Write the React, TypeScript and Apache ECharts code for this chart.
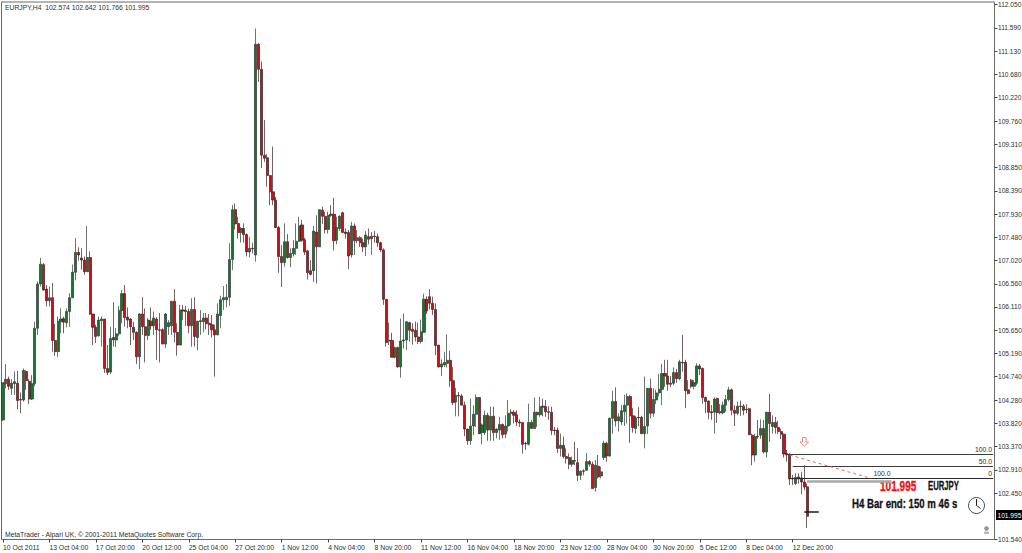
import React, { useEffect, useRef } from "react";
import * as echarts from "echarts";

const opens = [
103.89,104.60,104.69,104.51,104.60,104.61,104.29,104.28,104.84,104.65,
104.30,104.60,105.69,106.56,106.94,106.46,106.23,106.29,105.45,105.23,
105.82,105.88,105.80,106.02,106.29,106.79,107.18,107.07,107.03,106.80,
107.08,105.97,105.71,105.54,105.84,105.87,104.90,104.83,105.51,105.46,
105.58,106.04,106.37,105.91,105.87,105.71,105.61,105.13,105.97,105.72,
105.55,105.83,105.74,105.87,105.66,105.66,105.38,105.72,105.74,106.22,
105.61,105.36,106.05,106.04,106.02,105.74,106.06,105.51,105.82,105.82,
105.89,105.79,105.76,105.66,105.56,105.94,106.25,106.25,106.30,107.04,
108.02,107.75,107.57,107.65,107.53,107.19,107.26,107.13,111.27,110.78,
109.09,109.04,108.69,108.37,108.21,107.67,107.10,106.98,107.39,107.08,
107.15,107.26,107.40,107.72,107.43,107.21,106.82,106.82,107.58,107.29,
108.01,107.89,107.63,107.93,107.93,107.42,107.65,107.96,107.58,107.57,
107.13,107.70,107.41,107.47,107.37,107.29,107.49,107.45,107.50,107.49,
107.37,107.23,106.26,105.45,105.45,105.12,105.31,104.93,105.44,105.46,
105.80,105.67,105.65,105.52,105.43,105.61,106.26,106.31,106.18,106.06,
105.36,104.93,104.97,105.00,105.06,104.66,104.24,104.37,104.36,104.18,
103.71,103.48,103.77,104.00,104.33,103.64,103.64,103.98,103.69,103.96,
103.64,103.69,103.80,103.61,103.77,104.04,104.04,103.99,103.85,103.84,
103.43,103.41,103.84,103.72,104.04,103.99,104.16,104.15,104.05,104.04,
103.69,103.69,103.33,103.39,103.17,103.15,103.02,103.09,103.05,102.80,
102.89,102.90,103.07,103.02,102.56,102.98,102.79,103.15,103.43,103.18,
103.92,104.25,103.87,103.85,104.05,104.18,104.35,103.97,103.72,103.94,
103.94,103.62,103.77,104.51,104.02,104.28,104.42,104.49,104.80,104.75,
104.61,104.61,104.82,104.70,105.02,105.02,104.48,104.67,104.55,104.61,
104.95,104.90,104.33,104.26,104.05,104.04,104.31,104.05,104.03,104.18,
104.29,104.48,104.08,104.02,104.16,104.16,104.10,104.11,103.59,103.20,
103.57,103.59,103.72,103.26,104.04,103.76,103.84,103.74,103.66,103.61,
103.23,103.22,102.74,102.64,102.77,102.75,102.67,102.574];

const closes = [
104.62,104.69,104.55,104.61,104.64,104.27,104.28,104.86,104.66,104.30,
104.60,105.69,106.56,106.95,106.44,106.23,106.29,105.45,105.23,105.83,
105.87,105.81,106.02,106.29,106.79,107.18,107.13,107.03,106.80,107.08,
105.97,105.71,105.53,105.85,105.87,104.90,104.82,105.49,105.46,105.58,
106.04,106.37,105.90,105.85,105.72,105.61,105.13,105.97,105.72,105.55,
105.85,105.74,105.89,105.66,105.65,105.38,105.97,105.80,106.22,105.61,
105.36,106.05,106.03,106.02,105.74,106.06,105.53,105.83,105.84,105.89,
105.78,105.76,105.66,105.56,105.97,106.25,106.29,106.30,107.04,108.02,
107.74,107.57,107.65,107.53,107.19,107.26,107.25,111.27,110.78,109.09,
109.03,108.69,108.37,108.21,107.67,107.10,106.98,107.39,107.08,107.16,
107.26,107.40,107.70,107.42,107.19,106.78,106.75,107.60,107.29,108.02,
107.89,107.63,107.91,107.91,107.41,107.67,107.89,107.57,107.55,107.11,
107.70,107.41,107.47,107.37,107.29,107.52,107.44,107.50,107.49,107.37,
107.23,106.26,105.41,105.44,105.12,105.31,104.93,105.44,105.46,105.82,
105.65,105.63,105.52,105.43,105.62,106.26,106.03,106.18,106.06,105.35,
104.93,104.99,105.02,105.06,104.66,104.23,104.37,104.36,104.18,103.71,
103.48,103.77,104.00,104.33,103.62,103.79,103.98,103.69,103.96,103.64,
103.71,103.80,103.60,103.77,104.02,104.02,103.98,103.85,103.83,103.41,
103.42,103.84,103.72,104.04,103.99,104.15,104.14,104.05,104.04,103.68,
103.68,103.33,103.39,103.17,103.13,103.02,103.09,103.08,102.80,102.88,
102.88,103.07,103.02,102.54,103.00,102.77,102.87,103.43,103.18,103.92,
104.25,103.87,103.95,104.07,104.18,104.35,103.97,103.74,103.93,103.93,
103.62,103.76,104.51,104.02,104.29,104.42,104.49,104.80,104.75,104.59,
104.59,104.82,104.70,105.03,105.01,104.46,104.41,104.55,104.62,104.95,
104.89,104.33,104.25,104.04,104.03,104.30,104.03,104.03,104.18,104.29,
104.48,104.08,104.02,104.16,104.15,104.08,104.09,103.60,103.20,103.56,
103.56,103.72,103.26,104.04,103.82,103.84,103.74,103.66,103.61,103.22,
103.20,102.73,102.73,102.76,102.73,102.67,102.57,101.995];

const lows = [
103.87,104.51,104.48,104.38,104.38,104.10,104.02,104.25,104.48,104.20,
104.28,104.55,105.56,106.51,106.43,106.12,106.12,105.23,105.15,105.13,
105.59,105.59,105.71,105.72,106.28,106.63,107.02,106.84,106.74,106.80,
105.95,105.36,105.40,105.53,105.33,104.81,104.77,104.79,105.33,105.32,
105.54,105.79,105.72,105.69,105.36,105.46,104.99,104.89,105.56,105.02,
105.46,105.66,105.56,105.07,105.02,105.38,105.30,105.56,105.56,105.41,
105.15,105.36,105.85,105.74,105.59,105.33,105.33,105.26,105.56,105.61,
105.67,105.56,105.51,104.74,105.56,105.69,106.05,106.10,106.13,106.83,
107.63,107.45,107.37,107.37,107.10,107.08,107.16,107.00,110.53,108.84,
108.96,108.47,108.11,108.11,107.66,106.78,106.50,106.90,107.06,106.89,
107.10,107.13,107.39,107.39,107.13,106.65,106.73,106.60,106.57,107.29,
107.74,107.55,107.55,107.88,107.22,107.34,107.60,107.57,107.45,106.85,
107.08,107.13,107.36,107.29,107.19,107.11,107.34,107.13,107.37,107.29,
107.19,106.15,105.33,105.36,105.12,105.10,104.92,104.72,105.29,105.26,
105.43,105.37,105.43,105.38,105.39,105.61,105.97,106.06,105.95,105.16,
104.92,104.75,104.93,104.92,104.54,104.18,103.96,103.96,104.18,103.57,
103.40,103.40,103.59,103.75,103.61,103.41,103.59,103.48,103.48,103.48,
103.53,103.50,103.53,103.53,103.66,103.79,103.82,103.77,103.75,103.23,
103.30,103.39,103.72,103.72,103.75,103.95,103.96,103.95,103.89,103.59,
103.59,103.24,103.17,103.13,103.03,102.92,102.97,103.00,102.69,102.71,
102.80,102.89,102.97,102.54,102.48,102.74,102.74,103.10,103.07,103.17,
103.62,103.76,103.66,103.79,103.77,103.82,103.44,103.64,103.62,103.76,
103.61,103.33,103.61,103.92,103.95,104.20,104.35,104.18,104.54,104.46,
104.54,104.57,104.62,104.67,104.84,104.12,104.39,104.51,104.49,104.57,
104.77,104.21,104.02,103.90,103.89,103.62,103.83,104.00,104.00,104.05,
104.25,103.98,103.77,103.98,103.97,103.98,104.02,103.59,103.00,103.07,
103.52,103.52,103.23,103.15,103.46,103.62,103.62,103.61,103.51,103.15,
103.07,102.61,102.61,102.61,102.64,102.43,102.51,101.766];

const highs = [
104.62,104.99,104.74,104.69,104.84,104.85,104.43,104.90,104.87,104.69,
104.77,105.82,106.61,107.07,106.97,106.54,106.51,106.58,105.78,105.92,
106.08,105.92,106.08,106.38,106.94,107.46,107.28,107.26,107.10,107.70,
107.20,105.97,105.76,105.92,105.92,105.87,105.36,105.72,106.20,105.69,
106.13,106.44,106.54,106.10,105.89,105.82,105.63,105.99,106.30,106.08,
105.89,106.10,106.02,105.91,105.99,105.69,105.99,105.85,106.22,106.46,
105.79,106.15,106.15,106.13,106.08,106.28,106.30,105.83,106.05,105.99,
105.99,105.97,105.95,105.76,106.18,106.33,106.52,106.56,107.36,108.11,
108.14,107.88,107.68,107.75,107.55,107.49,107.37,111.58,111.29,110.93,
109.78,109.11,108.70,109.26,108.27,107.70,107.32,107.75,107.54,107.26,
107.42,107.75,107.88,107.82,107.47,107.23,107.03,107.70,107.91,108.02,
108.08,107.98,107.98,108.11,108.25,107.88,107.91,107.98,107.65,107.62,
107.78,107.75,107.62,107.50,107.45,107.60,107.65,107.58,107.60,107.55,
107.39,107.26,106.26,105.80,105.60,105.33,105.33,105.88,105.98,105.83,
105.82,105.79,105.82,105.80,105.86,106.37,106.32,106.46,106.31,106.18,
105.36,105.08,105.23,105.57,105.25,104.93,104.52,104.44,104.40,104.25,
103.72,104.31,104.18,104.39,104.34,103.82,104.07,104.03,104.15,104.15,
103.72,103.95,103.82,103.98,104.28,104.10,104.08,104.08,103.90,103.84,
103.46,104.21,103.89,104.33,104.05,104.34,104.31,104.28,104.16,104.15,
103.75,103.74,103.62,103.56,103.33,103.23,103.17,103.46,103.33,102.90,
102.92,103.24,103.10,103.07,103.10,103.20,102.97,103.48,103.46,103.94,
104.46,104.53,104.02,104.18,104.38,104.41,104.38,104.12,103.97,104.14,
103.97,104.74,104.51,104.70,104.51,104.48,104.79,104.99,105.07,105.07,
104.75,104.92,104.89,105.07,105.56,105.07,104.67,104.69,104.67,105.00,
104.99,104.92,104.35,104.27,104.18,104.33,104.33,104.20,104.25,104.38,
104.54,104.51,104.18,104.25,104.27,104.20,104.20,104.13,103.62,103.62,
103.89,103.90,103.89,104.05,104.40,103.98,103.95,103.87,103.72,103.62,
103.30,103.23,102.81,102.84,102.84,102.87,103.00,102.642];

const timeTicks = ["10 Oct 2011","13 Oct 04:00","17 Oct 20:00","20 Oct 12:00","25 Oct 04:00","27 Oct 20:00","1 Nov 12:00","4 Nov 04:00","8 Nov 20:00","11 Nov 12:00","16 Nov 04:00","18 Nov 20:00","23 Nov 12:00","28 Nov 04:00","30 Nov 20:00","5 Dec 12:00","8 Dec 04:00","12 Dec 20:00"];
const priceTicks = [112.05,111.59,111.13,110.68,110.22,109.76,109.31,108.85,108.39,107.93,107.48,107.02,106.56,106.11,105.65,105.19,104.74,104.28,103.82,103.37,102.91,102.45,101.54];

const BAR_COUNT = 342;
const TICK_EVERY = 16;
const categories = Array.from({ length: BAR_COUNT }, (_, i) => (i % TICK_EVERY === 0 && timeTicks[i / TICK_EVERY]) || "");
const SMALL = '"Liberation Sans"';
const ink = "#2e2e2e";

const fibLine = (a: number, b: number, price: number, text: string, style: any) => [
  { coord: [a, price], lineStyle: style, label: { show: !!text, formatter: text, position: "insideEndTop", distance: 1, fontFamily: SMALL, fontSize: 6.8, color: ink } },
  { coord: [b, price] },
];

const bannerStyle = (text: string, size: number, fill: string) => ({
  text, x: 0, y: 0, font: `bold ${size}px ${SMALL}`, fill, stroke: fill, lineWidth: 0.3, textVerticalAlign: "middle",
});

export default function App() {
  const ref = useRef<HTMLDivElement>(null);
  useEffect(() => {
    document.body.style.margin = "0";
    const chart = echarts.init(ref.current!, undefined, { renderer: "svg" });
    chart.setOption({
      animation: false,
      backgroundColor: "#fff",
      grid: { left: 1.5, top: 2, width: 993, height: 537.5, outerBoundsMode: "none", show: true, borderColor: "#6a6a6a", borderWidth: 1, backgroundColor: "#fff" },
      xAxis: {
        type: "category",
        data: categories,
        boundaryGap: true,
        axisLine: { show: false },
        axisTick: { show: true, alignWithLabel: true, length: 3, lineStyle: { color: "#444" }, interval: (i: number) => i % TICK_EVERY === 0 && i / TICK_EVERY < timeTicks.length },
        axisLabel: { interval: (i: number) => i % TICK_EVERY === 0 && i / TICK_EVERY < timeTicks.length, align: "left", margin: 4, fontFamily: SMALL, fontSize: 6.8, color: ink, hideOverlap: false },
        splitLine: { show: false },
      },
      yAxis: {
        type: "value",
        position: "right",
        min: 101.54,
        max: 112.1,
        axisLine: { show: false },
        splitLine: { show: false },
        axisTick: { show: true, length: 3, lineStyle: { color: "#444" }, customValues: priceTicks },
        axisLabel: { customValues: priceTicks, margin: 3.5, fontFamily: SMALL, fontSize: 6.6, color: ink, padding: [0, 0, 4, 0], formatter: (v: number) => v.toFixed(3) },
      },
      series: [
        {
          type: "candlestick",
          data: opens.map((o, i) => [o, closes[i], lows[i], highs[i]]),
          barWidth: 2.6,
          itemStyle: { color: "#14782a", color0: "#cc0f18", borderColor: "#2c3a30", borderColor0: "#3a2020", borderWidth: 0.7 },
          markLine: {
            silent: true,
            symbol: "none",
            animation: false,
            data: [
              fibLine(271, 341, 103.21, "100.0", { color: "#3c3c3c", width: 1, type: "solid" }),
              fibLine(272, 341, 102.98, "50.0", { color: "#3c3c3c", width: 1, type: "solid" }),
              fibLine(271, 341, 102.74, "0", { color: "#2a2a2a", width: 1, type: "solid" }),
              fibLine(277, 306, 102.69, "", { color: "#a8a8a8", width: 2.5, type: "solid" }),
              fibLine(277, 306, 102.74, "100.0", { color: "#2a2a2a", width: 1, type: "solid" }),
              fibLine(276, 281, 102.085, "", { color: "#1a1a1a", width: 1.5, type: "solid" }),
              [
                { coord: [271, 103.2], lineStyle: { color: "#f0605c", width: 1, type: [3, 3] }, label: { show: false } },
                { coord: [299, 102.74] },
              ],
            ],
          },
        },
      ],
      graphic: [
        { type: "text", style: { text: "EURJPY,H4  102.574 102.642 101.766 101.995", x: 5, y: 7.5, font: `6.8px ${SMALL}`, fill: ink, textVerticalAlign: "middle" } },
        { type: "text", style: { text: "MetaTrader - Alpari UK, © 2001-2011 MetaQuotes Software Corp.", x: 5, y: 534, font: `6.8px ${SMALL}`, fill: ink, textVerticalAlign: "middle" } },
        { type: "rect", shape: { x: 996, y: 510, width: 26, height: 10 }, style: { fill: "#000" } },
        { type: "text", style: { text: "101.995", x: 997.5, y: 515, font: `6.6px ${SMALL}`, fill: "#fff", textVerticalAlign: "middle" } },
        { type: "text", x: 880, y: 486, scaleX: 0.72, style: bannerStyle("101.995", 14, "#f01010") },
        { type: "text", x: 928, y: 486, scaleX: 0.62, style: bannerStyle("EURJPY", 12.5, "#111") },
        { type: "text", x: 852, y: 503.5, scaleX: 0.77, style: bannerStyle("H4 Bar end: 150 m 46 s", 12.5, "#111") },
        { type: "polygon", shape: { points: [[802.5, 437.5], [806, 437.5], [806, 442], [808.5, 442], [804.2, 446.5], [800, 442], [802.5, 442]] }, style: { fill: "#fff", stroke: "#f08a78", lineWidth: 1 } },
        { type: "circle", shape: { cx: 976.5, cy: 505.5, r: 8 }, style: { fill: "#fff", stroke: "#3a4a5a", lineWidth: 1 } },
        { type: "line", shape: { x1: 976.5, y1: 505.5, x2: 976.5, y2: 499 }, style: { stroke: "#222", lineWidth: 1 } },
        { type: "line", shape: { x1: 976.5, y1: 505.5, x2: 980.5, y2: 508.5 }, style: { stroke: "#222", lineWidth: 1 } },
        { type: "circle", shape: { cx: 986.5, cy: 528.5, r: 2 }, style: { fill: "#999", stroke: "#777", lineWidth: 0.5 } },
        { type: "rect", shape: { x: 984, y: 531.5, width: 5, height: 2.5 }, style: { fill: "#bbb" } },
      ],
    });
    return () => chart.dispose();
  }, []);
  return <div ref={ref} style={{ position: "absolute", left: 0, top: 0, width: 1022, height: 553 }} />;
}
